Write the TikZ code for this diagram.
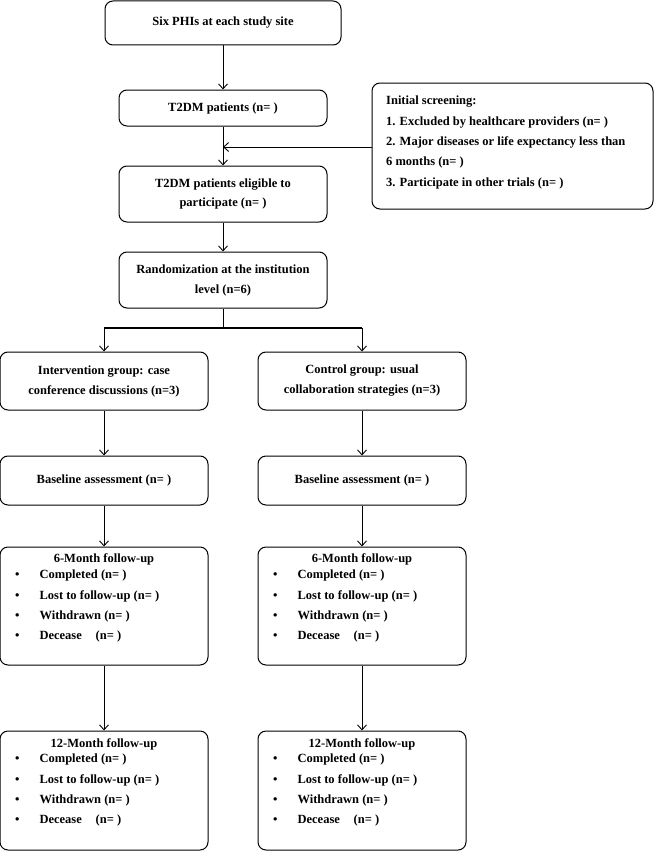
\documentclass[tikz,border=0pt]{standalone}
\usepackage{fontspec}
\setmainfont{Liberation Serif}
\usetikzlibrary{arrows.meta}
\begin{document}
\begin{tikzpicture}[x=1pt,y=-1pt,
  box/.style={draw,line width=1pt,rounded corners=8pt,inner sep=0pt},
  txt/.style={font=\bfseries\fontsize{12.5}{20}\selectfont,align=center,inner sep=0pt},
  lst/.style={font=\bfseries\fontsize{12.5}{20.3}\selectfont,align=left,inner sep=0pt,anchor=north west},
  arr/.style={line width=0.9pt,-{Straight Barb[length=5pt,width=9pt]}},
  ln/.style={line width=0.9pt}]
\useasboundingbox (0,0) rectangle (658,851);
% top part
\node[box,minimum width=236pt,minimum height=44pt] (top) at (223,23) {};
\node[txt] (topt) at (top) {Six PHIs at each study site};
\node[box,minimum width=208pt,minimum height=36pt] (t2) at (223,108) {};
\node[txt] (t2t) at (t2) {T2DM patients (n= )};
\node[box,minimum width=281pt,minimum height=126pt] (scr) at (512.5,146) {};
\node[lst] (scrt) at (386,96) {Initial screening:\\1. Excluded by healthcare providers (n= )\\2. Major diseases or life expectancy less than\\6 months (n= )\\3. Participate in other trials (n= )};
\node[box,minimum width=208pt,minimum height=56pt] (el) at (223,194) {};
\node[txt,font=\bfseries\fontsize{12.5}{19}\selectfont] (elt) at (el) {T2DM patients eligible to\\participate (n= )};
\node[box,minimum width=208pt,minimum height=56pt] (rd) at (223,280) {};
\node[txt] (rdt) at (rd) {Randomization at the institution\\level (n=6)};
\draw[arr] (top) -- (t2);
\draw[arr] (t2) -- (el);
\draw[arr] (el) -- (rd);
\coordinate (mid) at (223,147);
\draw[arr] (scr.west |- mid) -- (mid);
% branches
\coordinate (jn) at (223,328);
\coordinate (jl) at (104,328);
\coordinate (jr) at (362,328);
\draw[ln] (rd.south) -- (jn);
\draw[line width=1.4pt] (jl) -- (jr);
\foreach \c/\x in {L/104,R/362}{
  \node[box,minimum width=208pt,minimum height=58pt] (g\c) at (\x,381) {};
  \node[box,minimum width=208pt,minimum height=49pt] (b\c) at (\x,480.5) {};
  \node[txt] (bt\c) at (b\c) {Baseline assessment (n= )};
  \node[box,minimum width=208pt,minimum height=118pt] (s\c) at (\x,606) {};
  \node[txt] (st\c) at (\x,559) {6-Month follow-up};
  \node[lst] (sl\c) at (\x-89,570) {\textbullet\hspace{20pt}Completed (n= )\\\textbullet\hspace{20pt}Lost to follow-up (n= )\\\textbullet\hspace{20pt}Withdrawn (n= )\\\textbullet\hspace{20pt}Decease\hspace{1.1em}(n= )};
  \node[box,minimum width=208pt,minimum height=119pt] (w\c) at (\x,790.5) {};
  \node[txt] (wt\c) at (\x,744) {12-Month follow-up};
  \node[lst] (wl\c) at (\x-89,754) {\textbullet\hspace{20pt}Completed (n= )\\\textbullet\hspace{20pt}Lost to follow-up (n= )\\\textbullet\hspace{20pt}Withdrawn (n= )\\\textbullet\hspace{20pt}Decease\hspace{1.1em}(n= )};
  \draw[arr] (g\c) -- (b\c);
  \draw[arr] (b\c) -- (s\c);
  \draw[arr] (s\c) -- (w\c);
}
\node[txt] (gtL) at (gL) {Intervention group: case\\conference discussions (n=3)};
\node[txt] (gtR) at (gR) {Control group: usual\\collaboration strategies (n=3)};
\draw[arr] (jl) -- (gL);
\draw[arr] (jr) -- (gR);
\end{tikzpicture}
\end{document}
